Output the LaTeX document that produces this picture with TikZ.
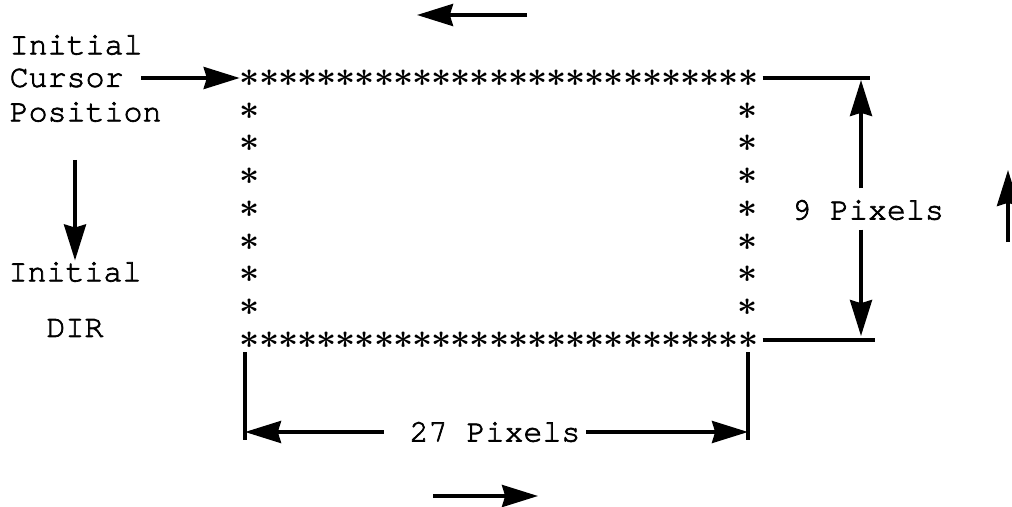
\documentclass[tikz,border=0pt]{standalone}
\usepackage{fontspec}
\setmonofont{TeX Gyre Cursor}[FakeBold=2.2]
\usetikzlibrary{arrows.meta}

\begin{document}
\begin{tikzpicture}[
      every node/.style={font=\ttfamily\fontsize{22.5}{27}\selectfont},
      txt/.style={inner sep=1pt},
      star/.style={inner sep=0pt, font=\fontsize{24}{24}\selectfont\boldmath},
      bigarrow/.style={line width=2.6pt, -{Stealth[length=0.9cm, width=0.55cm, inset=0.08cm]}},
      extline/.style={line width=2.6pt}
  ]
    \useasboundingbox (0,0) rectangle (25.3,-12.675);

    % frame of asterisks
    \foreach \i in {0,...,26} {
      \node[star] (t\i) at (6.25+\i*0.479,-1.95) {$\ast$};
      \node[star] (b\i) at (6.25+\i*0.479,-8.5) {$\ast$};
    }
    \foreach \j in {1,...,7} {
      \node[star] (l\j) at (6.25,-1.95-\j*0.81875) {$\ast$};
      \node[star] (r\j) at (18.7,-1.95-\j*0.81875) {$\ast$};
    }

    \node[txt, anchor=west] (initA) at (0.2,-1.125) {Initial};
    \node[txt, anchor=west] (cursor) at (0.2,-1.95) {Cursor};
    \node[txt, anchor=west] (position) at (0.2,-2.8) {Position};
    \node[txt] (dirA) at (1.875,-6.8) {Initial};
    \node[txt] (dirB) at (1.875,-8.2) {DIR};
    \node[txt] (nine) at (21.7,-5.25) {9 Pixels};
    \node[txt] (twenty) at (12.375,-10.8) {27 Pixels};

    \coordinate (dirtop) at (1.875,-4.0);
    \coordinate (lefttail) at (13.175,-0.375);
    \coordinate (lefttip) at (10.425,-0.375);
    \coordinate (righttail) at (10.825,-12.4);
    \coordinate (righttip) at (13.45,-12.4);
    \coordinate (uptail) at (25.2,-6.05);
    \coordinate (uptip) at (25.2,-4.25);
    \coordinate (exttop) at (21.75,-1.95);
    \coordinate (extbot) at (21.875,-8.5);
    \coordinate (dimtop) at (21.525,-2.0);
    \coordinate (dimbot) at (21.525,-8.4);
    \coordinate (hl0) at (6.125,-8.8);
    \coordinate (hl1) at (6.125,-11.0);
    \coordinate (hr0) at (18.7,-8.8);
    \coordinate (hr1) at (18.7,-11.0);

    \draw[bigarrow] ([xshift=0.4cm]cursor.east) -- (cursor.east -| t0.west);
    \draw[bigarrow] (dirtop) -- (dirA.north);
    \draw[bigarrow] (lefttail) -- (lefttip);
    \draw[bigarrow] (righttail) -- (righttip);
    \draw[bigarrow] (uptail) -- (uptip);

    \draw[extline] ([xshift=0.1cm]t26.east) -- (t26.east -| exttop);
    \draw[extline] ([xshift=0.1cm]b26.east) -- (b26.east -| extbot);
    \draw[bigarrow] ([yshift=0.25cm]dimtop |- nine.north) -- (dimtop);
    \draw[bigarrow] ([yshift=-0.2cm]dimtop |- nine.south) -- (dimbot);

    \draw[extline] (hl0) -- (hl1);
    \draw[extline] (hr0) -- (hr1);
    \draw[bigarrow] ([xshift=-0.6cm]twenty.west) -- (hl1 |- twenty);
    \draw[bigarrow] ([xshift=0.1cm]twenty.east) -- (hr1 |- twenty);
  \end{tikzpicture}
\end{document}
